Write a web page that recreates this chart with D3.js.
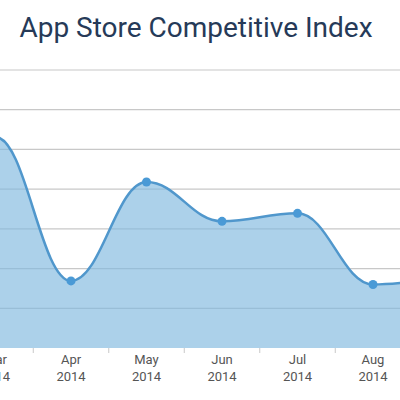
<!DOCTYPE html>
<html>
<head>
<meta charset="utf-8">
<script src="https://cdn.jsdelivr.net/npm/d3@7"></script>
<style>
  body { margin: 0; background: #fff; }
  svg { display: block; }
</style>
</head>
<body>
<svg id="chart" width="400" height="400"></svg>
<script>
const months = ["Mar", "Apr", "May", "Jun", "Jul", "Aug", "Sep"];
const years = ["2014", "2014", "2014", "2014", "2014", "2014", "2014"];
const indexValues = [53.1, 16.9, 41.8, 31.9, 33.9, 16.0, 17.3];
const gridTicks = [0, 10, 20, 30, 40, 50, 60, 70];

const data = months.map((m, i) => ({ month: m, year: years[i], value: indexValues[i] }));

const width = 400;
const plotTop = 70;
const plotBottom = 348;

const svg = d3.select("#chart");

// the chart is cropped: Mar sits just off the left edge, Sep off the right
const x = d3.scaleBand()
  .domain(months)
  .range([-42.25, -42.25 + 75.5 * months.length]);

const y = d3.scaleLinear()
  .domain([0, 70])
  .range([plotBottom, plotTop]);

const cx = (d) => x(d.month) + x.bandwidth() / 2;

// spline with flattened extremes, handles 0.4 of the segment
function splinePath(pts, closeTo) {
  const smooth = 1.5, denom = smooth + 1;
  const ctl = pts.map((p, i) => {
    const prev = pts[i - 1], next = pts[i + 1];
    // ends get a flat handle
    if (!prev) return { lx: p[0], ly: p[1], rx: (smooth * p[0] + next[0]) / denom, ry: p[1] };
    if (!next) return { lx: (smooth * p[0] + prev[0]) / denom, ly: p[1], rx: p[0], ry: p[1] };
    const lx = (smooth * p[0] + prev[0]) / denom;
    let ly = (smooth * p[1] + prev[1]) / denom;
    const rx = (smooth * p[0] + next[0]) / denom;
    let ry = (smooth * p[1] + next[1]) / denom;
    const corr = ((ry - ly) * (rx - p[0])) / (rx - lx) + p[1] - ry;
    ly += corr; ry += corr;
    if (ly > prev[1] && ly > p[1]) { ly = Math.max(prev[1], p[1]); ry = 2 * p[1] - ly; }
    else if (ly < prev[1] && ly < p[1]) { ly = Math.min(prev[1], p[1]); ry = 2 * p[1] - ly; }
    if (ry > next[1] && ry > p[1]) { ry = Math.max(next[1], p[1]); ly = 2 * p[1] - ry; }
    else if (ry < next[1] && ry < p[1]) { ry = Math.min(next[1], p[1]); ly = 2 * p[1] - ry; }
    return { lx, ly, rx, ry };
  });
  const path = d3.path();
  path.moveTo(pts[0][0], pts[0][1]);
  for (let i = 1; i < pts.length; i++) {
    path.bezierCurveTo(ctl[i - 1].rx, ctl[i - 1].ry, ctl[i].lx, ctl[i].ly, pts[i][0], pts[i][1]);
  }
  if (closeTo !== undefined) {
    path.lineTo(pts[pts.length - 1][0], closeTo);
    path.lineTo(pts[0][0], closeTo);
    path.closePath();
  }
  return path.toString();
}

const pts = data.map((d) => [cx(d), y(d.value)]);

// title
svg.append("text")
  .attr("x", 196)
  .attr("y", 37)
  .attr("text-anchor", "middle")
  .style("font-family", "Roboto, 'Open Sans', sans-serif")
  .style("font-size", "28px")
  .attr("fill", "#263a58")
  .text("App Store Competitive Index");

// grid lines
svg.append("g")
  .selectAll("line")
  .data(gridTicks.filter((t) => t > 0))
  .join("line")
  .attr("x1", 0)
  .attr("x2", width)
  .attr("y1", (d) => y(d))
  .attr("y2", (d) => y(d))
  .attr("stroke", "#c8c8c8")
  .attr("stroke-width", 1.2);

svg.append("path")
  .attr("d", splinePath(pts, y(0)))
  .attr("fill", "#7fb8de")
  .attr("fill-opacity", 0.65);

svg.append("path")
  .attr("d", splinePath(pts))
  .attr("fill", "none")
  .attr("stroke", "#5097cc")
  .attr("stroke-width", 2.5);

svg.append("g")
  .selectAll("circle")
  .data(data)
  .join("circle")
  .attr("cx", cx)
  .attr("cy", (d) => y(d.value))
  .attr("r", 4.5)
  .attr("fill", "#4a9ad6");

// x axis ticks sit on the band edges
svg.append("g")
  .selectAll("line")
  .data(months.slice(1))
  .join("line")
  .attr("x1", (d) => x(d))
  .attr("x2", (d) => x(d))
  .attr("y1", plotBottom)
  .attr("y2", plotBottom + 5)
  .attr("stroke", "#c8c8c8")
  .attr("stroke-width", 1);

const labels = svg.append("g")
  .selectAll("text")
  .data(data)
  .join("text")
  .attr("text-anchor", "middle")
  .style("font-family", "Roboto, 'Open Sans', sans-serif")
  .style("font-size", "13px")
  .attr("fill", "#555");
labels.append("tspan").attr("x", cx).attr("y", 364).text((d) => d.month);
labels.append("tspan").attr("x", cx).attr("y", 381).text((d) => d.year);
</script>
</body>
</html>
